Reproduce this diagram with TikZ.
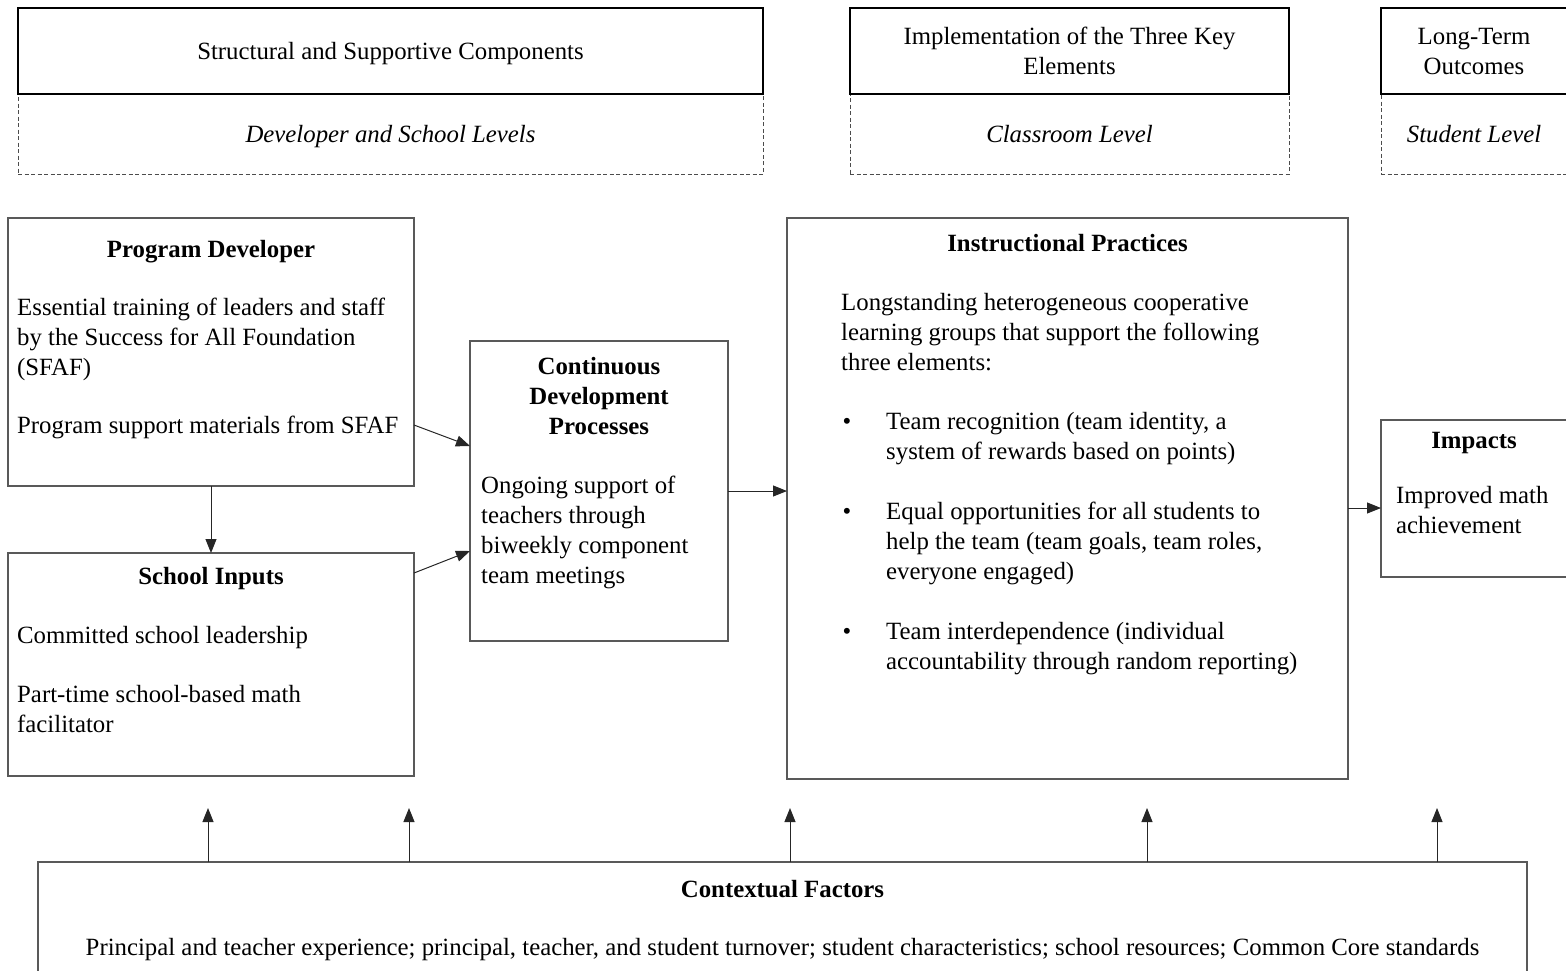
\documentclass[tikz,border=0pt]{standalone}
\usepackage{fontspec}
\setmainfont{Liberation Serif}
\usetikzlibrary{arrows.meta,calc}
\newcommand{\bodyfont}{\fontsize{24.8pt}{30pt}\selectfont}
\newcommand{\mlinesl}[1]{\begin{tabular}[t]{@{}l@{}}#1\end{tabular}}
\newcommand{\mlinesc}[1]{\begin{tabular}[t]{@{}c@{}}#1\end{tabular}}
\begin{document}
\begin{tikzpicture}[x=1pt,y=-1pt,
  box/.style={draw=black!65, line width=1.3pt, outer sep=0pt, inner sep=0pt, anchor=north west, fill=white},
  hdbox/.style={draw=black, line width=2.2pt, outer sep=0pt, inner sep=0pt, anchor=north west},
  lvlbox/.style={draw=black!70, line width=1pt, dash pattern=on 4pt off 2.5pt, outer sep=0pt, inner sep=0pt, anchor=north west},
  txt/.style={inner sep=0pt, font=\bodyfont, anchor=base west},
  ctxt/.style={inner sep=0pt, font=\bodyfont, anchor=base},
  arr/.style={draw=black!85, line width=1pt, -{Triangle[length=14pt,width=11pt]}},
]
\useasboundingbox (0,0) rectangle (1566,970);
\clip (0,0) rectangle (1566,970);

% header columns
\node[lvlbox, minimum width=745, minimum height=80] (lv1) at (18,94) {};
\node[hdbox, minimum width=745, minimum height=86] (hd1) at (18,8) {};
\node[lvlbox, minimum width=439, minimum height=80] (lv2) at (850,94) {};
\node[hdbox, minimum width=439, minimum height=86] (hd2) at (850,8) {};
\node[lvlbox, minimum width=200, minimum height=80] (lv3) at (1381,94) {};
\node[hdbox, minimum width=200, minimum height=86] (hd3) at (1381,8) {};

\node[ctxt] (thd1) at (390.5,59) {Structural and Supportive Components};
\node[ctxt] (tlv1) at (390.5,142) {\itshape Developer and School Levels};
\node[ctxt] (thd2) at (1069.5,44) {\mlinesc{Implementation of the Three Key\\Elements}};
\node[ctxt] (tlv2) at (1069.5,142) {\itshape Classroom Level};
\node[ctxt] (thd3) at (1474,44) {\mlinesc{Long-Term\\Outcomes}};
\node[ctxt] (tlv3) at (1474,142) {\itshape Student Level};

% main boxes
\node[box, minimum width=406, minimum height=268] (pd) at (8,218) {};
\node[box, minimum width=406, minimum height=223] (si) at (8,553) {};
\node[box, minimum width=258, minimum height=300] (cd) at (470,341) {};
\node[box, minimum width=561, minimum height=561] (ip) at (787,218) {};
\node[box, minimum width=200, minimum height=157] (imp) at (1381,420) {};
\node[box, minimum width=1489, minimum height=150] (ctx) at (38,862) {};

% Program Developer
\node[ctxt] (tpd) at (211,257) {\textbf{Program Developer}};
\node[txt] (tpd1) at (17,315) {\mlinesl{Essential training of leaders and staff\\by the Success for All Foundation\\(SFAF)}};
\node[txt] (tpd2) at (17,433) {Program support materials from SFAF};

% School Inputs
\node[ctxt] (tsi) at (211,584) {\textbf{School Inputs}};
\node[txt] (tsi1) at (17,643) {Committed school leadership};
\node[txt] (tsi2) at (17,702) {\mlinesl{Part-time school-based math\\facilitator}};

% Continuous Development
\node[ctxt] (tcd) at (599,374) {\mlinesc{\textbf{Continuous}\\\textbf{Development}\\\textbf{Processes}}};
\node[txt] (tcd1) at (481,493) {\mlinesl{Ongoing support of\\teachers through\\biweekly component\\team meetings}};

% Instructional Practices
\node[ctxt] (tip) at (1067.5,251) {\textbf{Instructional Practices}};
\node[txt] (tip1) at (841,310) {\mlinesl{Longstanding heterogeneous cooperative\\learning groups that support the following\\three elements:}};
\node[ctxt] (b1) at (847,429) {•};
\node[txt] (tb1) at (886,429) {\mlinesl{Team recognition (team identity, a\\system of rewards based on points)}};
\node[ctxt] (b2) at (847,519) {•};
\node[txt] (tb2) at (886,519) {\mlinesl{Equal opportunities for all students to\\help the team (team goals, team roles,\\everyone engaged)}};
\node[ctxt] (b3) at (847,639) {•};
\node[txt] (tb3) at (886,639) {\mlinesl{Team interdependence (individual\\accountability through random reporting)}};

% Impacts
\node[ctxt] (timp) at (1474,448) {\textbf{Impacts}};
\node[txt] (timp1) at (1396,503) {\mlinesl{Improved math\\achievement}};

% Contextual Factors
\node[ctxt] (tctx) at (782.5,897) {\textbf{Contextual Factors}};
\node[ctxt] (tctx1) at (782.5,955) {Principal and teacher experience; principal, teacher, and student turnover; student characteristics; school resources; Common Core standards};

% connectors
\draw[arr] (pd.south) -- (si.north);
\draw[arr] ($(pd.north east)+(0,207)$) -- ($(cd.north west)+(0,105)$);
\draw[arr] ($(si.north east)+(0,20)$) -- ($(cd.north west)+(0,210)$);
\draw[arr] ($(cd.north east)+(0,150)$) -- ($(ip.north west)+(0,273)$);
\draw[arr] ($(ip.north east)+(0,290)$) -- ($(imp.north west)+(0,88)$);

\coordinate (u1) at (208,808);
\coordinate (u2) at (409,808);
\coordinate (u3) at (790,808);
\coordinate (u4) at (1147,808);
\coordinate (u5) at (1437,808);
\foreach \u in {u1,u2,u3,u4,u5}{
  \draw[arr] (ctx.north -| \u) -- (\u);
}
\end{tikzpicture}
\end{document}
